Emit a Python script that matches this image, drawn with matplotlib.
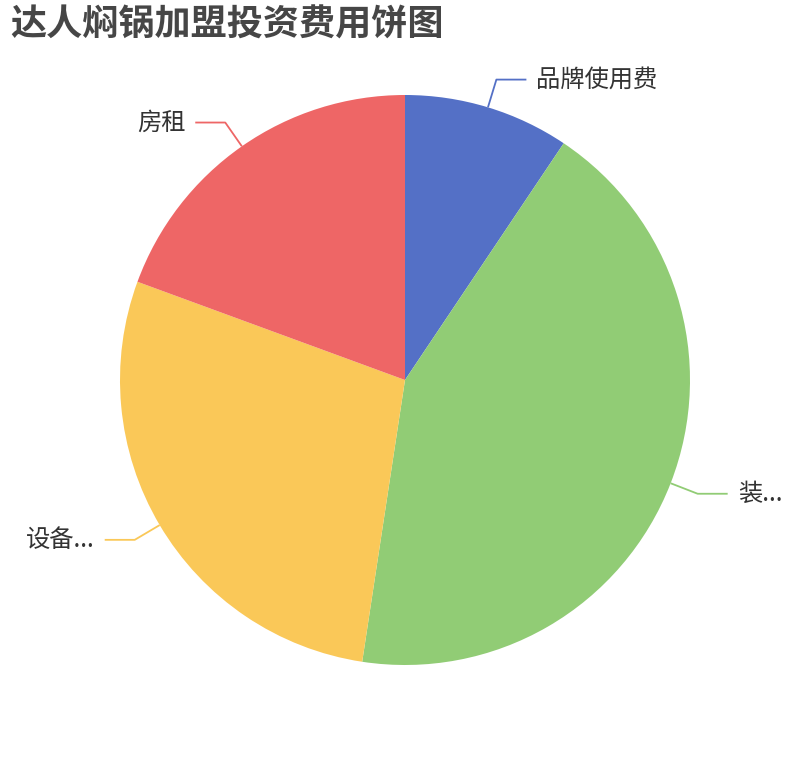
import matplotlib
matplotlib.use('Agg')
import matplotlib.pyplot as plt
import numpy as np

plt.rcParams['font.family'] = ['Noto Sans CJK SC', 'DejaVu Sans']

title = '达人焖锅加盟投资费用饼图'
labels = ['品牌使用费', '装...', '设备...', '房租']
values = [9.4, 43.0, 28.2, 19.4]
colors = ['#5470c6', '#91cc75', '#fac858', '#ee6666']

W, H = 810, 760
cx, cy, r = 405, 380, 285

fig = plt.figure(figsize=(W / 100, H / 100), dpi=100)
ax = fig.add_axes([0, 0, 1, 1])

wedges, _ = ax.pie(values, colors=colors, startangle=90, counterclock=False,
                   center=(cx, H - cy), radius=r,
                   wedgeprops=dict(linewidth=0))
ax.set_xlim(0, W)
ax.set_ylim(0, H)
ax.set_aspect('equal')
ax.axis('off')

# label lines
len1, len2 = 29, 30
for w, lab, col in zip(wedges, labels, colors):
    mid = np.deg2rad((w.theta1 + w.theta2) / 2)
    dx, dy = np.cos(mid), np.sin(mid)
    x0, y0 = cx + r * dx, (H - cy) + r * dy
    x1, y1 = x0 + len1 * dx, y0 + len1 * dy
    side = 1 if dx >= 0 else -1
    x2 = x1 + side * len2
    ax.plot([x0, x1, x2], [y0, y1, y1], color=col, lw=1.3, solid_capstyle='butt')
    ax.text(x2 + side * 10, y1, lab, ha='left' if side > 0 else 'right',
            va='center', fontsize=17.5, color='#333333')

fig.text(10 / W, 1 - 25 / H, title, fontsize=26, fontweight='heavy',
         color='#464646', ha='left', va='center')

fig.savefig('out.png', dpi=100)
